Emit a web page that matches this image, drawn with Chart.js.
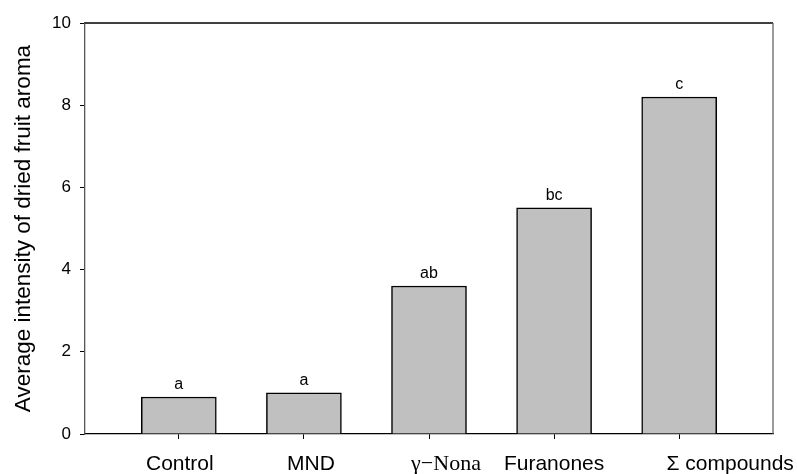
<!DOCTYPE html>
<html>
<head>
<meta charset="utf-8">
<script src="https://cdn.jsdelivr.net/npm/chart.js@4/dist/chart.umd.min.js"></script>
<style>
  html, body { margin: 0; padding: 0; background: #fff; }
  #wrap { width: 797px; height: 474px; }
</style>
</head>
<body>
<div id="wrap"><canvas id="c" width="797" height="474"></canvas></div>
<script>
const categories = ["Control", "MND", "\u03B3\u2212Nona", "Furanones", "\u03A3 compounds"];
const values = [0.9, 1.0, 3.6, 5.5, 8.2];
const groupLetters = ["a", "a", "ab", "bc", "c"];
const yTicks = [0, 2, 4, 6, 8, 10];
const yTitle = "Average intensity of dried fruit aroma";

const SANS = "'Liberation Sans', Arial, Helvetica, sans-serif";
const SERIF = "'Liberation Serif', 'Times New Roman', serif";

const letterPlugin = {
  id: 'letters',
  afterDatasetsDraw(chart) {
    const ctx = chart.ctx;
    const meta = chart.getDatasetMeta(0);
    ctx.save();
    ctx.fillStyle = '#000';
    ctx.font = '16px ' + SANS;
    ctx.textAlign = 'center';
    ctx.textBaseline = 'bottom';
    meta.data.forEach((bar, i) => {
      ctx.fillText(groupLetters[i], bar.x, bar.y - 4);
    });
    ctx.restore();
  }
};

// x category labels drawn at the scale's tick positions (with the small
// rightward shifts seen in the reference for some labels)
const xLabelPlugin = {
  id: 'xlabels',
  afterDraw(chart) {
    const ctx = chart.ctx;
    const xs = chart.scales.x;
    const shifts = [1, 7, 17, 0, 51];
    const baseY = chart.chartArea.bottom + 35.5;
    ctx.save();
    ctx.fillStyle = '#000';
    ctx.textAlign = 'center';
    ctx.textBaseline = 'alphabetic';
    categories.forEach((lab, i) => {
      ctx.font = (i === 2 ? '22px ' + SERIF : '21px ' + SANS);
      ctx.fillText(lab, xs.getPixelForValue(i) + shifts[i], baseY);
    });
    ctx.restore();
  }
};

const framePlugin = {
  id: 'frame',
  afterDraw(chart) {
    const a = chart.chartArea;
    const ctx = chart.ctx;
    ctx.save();
    ctx.lineWidth = 1.3;
    ctx.strokeStyle = '#000';
    ctx.beginPath();
    ctx.moveTo(a.left, a.top);
    ctx.lineTo(a.right, a.top);
    ctx.stroke();
    ctx.strokeStyle = '#666';
    ctx.beginPath();
    ctx.moveTo(a.right, a.top);
    ctx.lineTo(a.right, a.bottom);
    ctx.stroke();
    ctx.restore();
  }
};

new Chart(document.getElementById('c'), {
  type: 'bar',
  data: {
    datasets: [{
      data: values.map((v, i) => ({ x: i, y: v })),
      backgroundColor: '#c0c0c0',
      borderColor: '#000',
      borderWidth: 1.5,
      barThickness: 75
    }]
  },
  options: {
    responsive: false,
    animation: false,
    devicePixelRatio: 1,
    layout: { padding: { top: 23, right: 24, left: 0, bottom: 0 } },
    plugins: { legend: { display: false }, tooltip: { enabled: false } },
    scales: {
      x: {
        type: 'linear',
        min: -0.75,
        max: 4.75,
        offset: false,
        afterBuildTicks: s => { s.ticks = categories.map((_, i) => ({ value: i })); },
        afterFit: s => { s.height = 40; },
        grid: { offset: false, drawOnChartArea: false, drawTicks: true, tickLength: 5, color: '#000', lineWidth: 1 },
        border: { display: true, color: '#000', width: 1.3 },
        ticks: { display: false }
      },
      y: {
        min: 0,
        max: 10,
        afterBuildTicks: s => { s.ticks = yTicks.map(v => ({ value: v })); },
        afterFit: s => { s.width = 85; },
        grid: { drawOnChartArea: false, drawTicks: true, tickLength: 5, color: '#000', lineWidth: 1 },
        border: { display: true, color: '#555', width: 1.3 },
        ticks: { padding: 9, color: '#000', font: { family: SANS, size: 17 } },
        title: {
          display: true,
          text: yTitle,
          color: '#000',
          font: { family: SANS, size: 22.5 },
          padding: { top: 10, bottom: 0 }
        }
      }
    }
  },
  plugins: [letterPlugin, xLabelPlugin, framePlugin]
});
</script>
</body>
</html>
